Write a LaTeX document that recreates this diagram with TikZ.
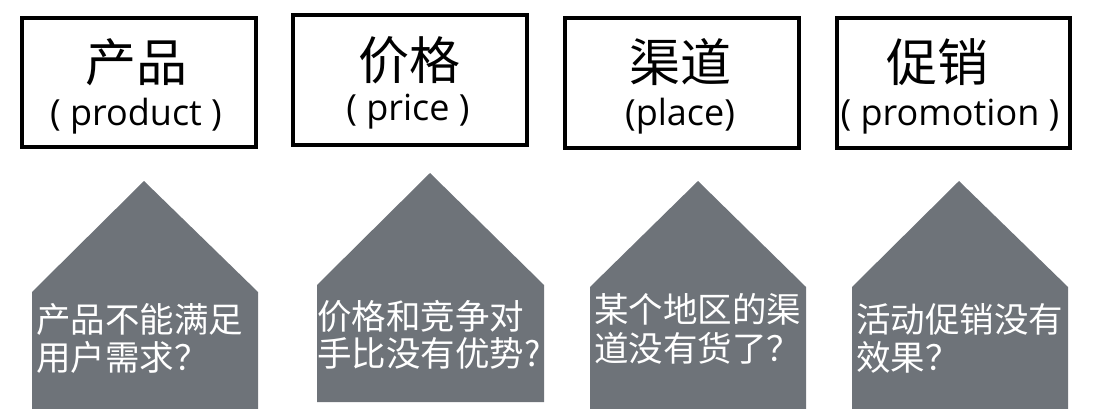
\documentclass[tikz,border=0pt]{standalone}
\usepackage{fontspec}
\setmainfont{Noto Sans CJK SC}
\newfontfamily\latinfont{Open Sans}
\definecolor{housegray}{HTML}{6E7379}
\begin{document}
\begin{tikzpicture}[x=1pt,y=-1pt]
\tikzset{
  frame/.style={draw=black,line width=4pt,inner sep=0,anchor=north west},
  house/.style={fill=housegray},
  title/.style={font=\fontsize{51}{51}\selectfont,anchor=base,inner sep=0},
  sub/.style={font=\latinfont\fontsize{36}{36}\selectfont,anchor=base,inner sep=0},
  qline/.style={text=white,font=\fontsize{34.5}{34.5}\selectfont,anchor=base west,inner sep=0}
}
\useasboundingbox (0,0) rectangle (1102,409);
% top boxes
\node[frame,minimum width=234pt,minimum height=129pt] (b1) at (20,16) {};
\node[frame,minimum width=234pt,minimum height=130pt] (b2) at (291,13) {};
\node[frame,minimum width=234pt,minimum height=130pt] (b3) at (563,16) {};
\node[frame,minimum width=233pt,minimum height=130pt] (b4) at (835,16) {};
\node[title] (t1) at (136,82) {产品};
\node[title] (t2) at (409,80) {价格};
\node[title] (t3) at (680,82) {渠道};
\node[title] (t4) at (937,82) {促销};
\node[sub] (s1) at (136,125) {( product )};
\node[sub] (s2) at (408,121) {( price )};
\node[sub] (s3) at (680,125) {(place)};
\node[sub] (s4) at (950,125) {( promotion )};
% houses
\fill[house] (32,409) -- (32,292) -- (144,181) -- (258,292) -- (258,409) -- cycle;
\fill[house] (317,402) -- (317,285) -- (430,173) -- (544,285) -- (544,402) -- cycle;
\fill[house] (590,409) -- (590,287) -- (698,181) -- (806,287) -- (806,409) -- cycle;
\fill[house] (852,409) -- (852,287) -- (959,181) -- (1068,287) -- (1068,409) -- cycle;
\node[qline] (q1a) at (36,332) {产品不能满足};
\node[qline] (q1b) at (36,370) {用户需求？};
\node[qline] (q2a) at (317,329) {价格和竞争对};
\node[qline] (q2b) at (317,366) {手比没有优势?};
\node[qline] (q3a) at (594,322) {某个地区的渠};
\node[qline] (q3b) at (594,361) {道没有货了？};
\node[qline] (q4a) at (856,332) {活动促销没有};
\node[qline] (q4b) at (856,370) {效果？};
\end{tikzpicture}
\end{document}
